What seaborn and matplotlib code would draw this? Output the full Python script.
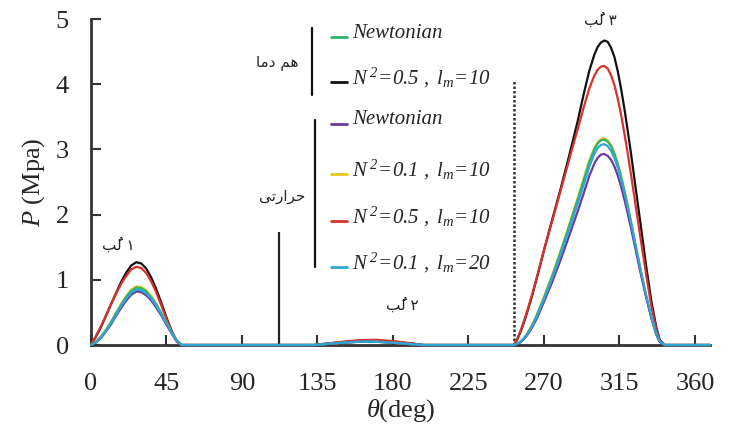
import numpy as np
import pandas as pd
import matplotlib
matplotlib.use("Agg")
import matplotlib.pyplot as plt
import seaborn as sns

# ---------------- data ----------------
series_names = ["iso_N05_l10", "th_N05_l10", "th_N01_l10", "iso_newt", "th_newt", "th_N01_l20"]
series_colors = ["#111111", "#d9312b", "#e6c619", "#2fb36b", "#6a3a9c", "#2fa6d6"]

theta_lobe1 = [0, 3, 6, 9, 12, 15, 18, 21, 24, 27, 30, 33, 36, 39, 42, 45, 48, 51, 54]
lobe1 = {
    "iso_N05_l10": [0, 0.13, 0.28, 0.45, 0.63, 0.80, 0.97, 1.11, 1.22, 1.27, 1.25, 1.17, 1.03, 0.85, 0.64, 0.42, 0.22, 0.07, 0],
    "th_N05_l10":  [0, 0.14, 0.29, 0.46, 0.63, 0.79, 0.94, 1.06, 1.16, 1.20, 1.18, 1.10, 0.97, 0.80, 0.60, 0.40, 0.21, 0.06, 0],
    "th_N01_l10":  [0, 0.05, 0.13, 0.24, 0.36, 0.50, 0.63, 0.75, 0.85, 0.90, 0.89, 0.84, 0.75, 0.63, 0.49, 0.34, 0.19, 0.07, 0],
    "iso_newt":    [0, 0.05, 0.13, 0.23, 0.35, 0.49, 0.62, 0.74, 0.83, 0.88, 0.87, 0.82, 0.73, 0.62, 0.48, 0.33, 0.19, 0.07, 0],
    "th_newt":     [0, 0.04, 0.11, 0.21, 0.32, 0.45, 0.57, 0.68, 0.77, 0.82, 0.81, 0.76, 0.68, 0.57, 0.45, 0.31, 0.18, 0.06, 0],
    "th_N01_l20":  [0, 0.04, 0.12, 0.22, 0.34, 0.47, 0.60, 0.71, 0.80, 0.85, 0.84, 0.79, 0.71, 0.60, 0.47, 0.33, 0.19, 0.07, 0],
}
theta_gap1 = [80, 120]
theta_lobe2 = [133, 140, 150, 160, 170, 180, 190, 198]
lobe2 = {
    "iso_N05_l10": [0, 0.020, 0.045, 0.065, 0.070, 0.050, 0.025, 0],
    "th_N05_l10":  [0, 0.020, 0.050, 0.075, 0.080, 0.060, 0.030, 0],
    "th_N01_l10":  [0, 0.015, 0.035, 0.050, 0.050, 0.035, 0.015, 0],
    "iso_newt":    [0, 0.015, 0.035, 0.050, 0.050, 0.035, 0.015, 0],
    "th_newt":     [0, 0.015, 0.035, 0.050, 0.050, 0.035, 0.015, 0],
    "th_N01_l20":  [0, 0.015, 0.035, 0.050, 0.050, 0.035, 0.015, 0],
}
theta_gap2 = [220, 245]
theta_lobe3 = [252, 254, 256, 258, 260, 263, 266, 270, 275, 280, 285, 290, 294, 297, 300, 302, 304,
               306, 308, 310, 312, 314, 316, 318, 320, 322, 325, 328, 331, 334, 337, 339, 342]
lobe3 = {
    "iso_N05_l10": [0, 0.08, 0.20, 0.34, 0.50, 0.76, 1.05, 1.45, 1.93, 2.40, 2.90, 3.42, 3.88, 4.20, 4.45, 4.57, 4.64,
                    4.67, 4.65, 4.56, 4.42, 4.20, 3.93, 3.62, 3.28, 2.92, 2.35, 1.78, 1.20, 0.68, 0.27, 0.08, 0],
    "th_N05_l10":  [0, 0.09, 0.21, 0.36, 0.52, 0.78, 1.06, 1.45, 1.91, 2.37, 2.84, 3.30, 3.67, 3.93, 4.13, 4.22, 4.27,
                    4.28, 4.24, 4.14, 3.99, 3.78, 3.53, 3.24, 2.93, 2.60, 2.08, 1.57, 1.07, 0.60, 0.24, 0.07, 0],
    "th_N01_l10":  [0, 0.02, 0.05, 0.10, 0.18, 0.31, 0.48, 0.74, 1.08, 1.45, 1.84, 2.25, 2.58, 2.83, 3.02, 3.11, 3.16,
                    3.17, 3.14, 3.07, 2.95, 2.79, 2.60, 2.38, 2.14, 1.88, 1.49, 1.10, 0.74, 0.42, 0.16, 0.05, 0],
    "iso_newt":    [0, 0.02, 0.05, 0.10, 0.17, 0.30, 0.47, 0.72, 1.06, 1.43, 1.82, 2.22, 2.55, 2.80, 3.00, 3.09, 3.14,
                    3.15, 3.12, 3.05, 2.93, 2.77, 2.58, 2.36, 2.12, 1.87, 1.48, 1.10, 0.74, 0.42, 0.16, 0.05, 0],
    "th_newt":     [0, 0.02, 0.04, 0.09, 0.15, 0.27, 0.42, 0.66, 0.97, 1.31, 1.67, 2.04, 2.35, 2.59, 2.78, 2.87, 2.92,
                    2.93, 2.90, 2.84, 2.74, 2.60, 2.43, 2.23, 2.01, 1.78, 1.42, 1.06, 0.73, 0.42, 0.17, 0.05, 0],
    "th_N01_l20":  [0, 0.02, 0.05, 0.10, 0.16, 0.29, 0.45, 0.70, 1.03, 1.39, 1.77, 2.16, 2.48, 2.73, 2.93, 3.02, 3.07,
                    3.08, 3.05, 2.98, 2.87, 2.72, 2.54, 2.33, 2.10, 1.86, 1.48, 1.11, 0.76, 0.44, 0.18, 0.06, 0],
}
theta_tail = [355, 369]

divider_solid = (112, 1.73)   # (theta, height)
divider_dotted = (252, 4.05)

x_ticks = [0, 45, 90, 135, 180, 225, 270, 315, 360]
y_ticks = [0, 1, 2, 3, 4, 5]

legend_entries = [
    ("iso_newt", "Newtonian"),
    ("iso_N05_l10", r"$N^{\,2}\!=\!0.5\ ,\ l_m\!=\!10$"),
    ("th_newt", "Newtonian"),
    ("th_N01_l10", r"$N^{\,2}\!=\!0.1\ ,\ l_m\!=\!10$"),
    ("th_N05_l10", r"$N^{\,2}\!=\!0.5\ ,\ l_m\!=\!10$"),
    ("th_N01_l20", r"$N^{\,2}\!=\!0.1\ ,\ l_m\!=\!20$"),
]
# Persian labels (pre-shaped, visual order)
label_iso = "\uFE8E\uFEE3\uFEA9 \uFEE2\uFEEB"          # هم دما
label_thermal = "\uFEF0\uFE97\uFEAD\uFE8D\uFEAE\uFEA3"  # حرارتی
lobe_labels = ["\uFE90\u064F\uFEDF \u06F1", "\uFE90\u064F\uFEDF \u06F2", "\uFE90\u064F\uFEDF \u06F3"]

# ---------------- build table ----------------
rows = []
for name in series_names:
    th = theta_lobe1 + theta_gap1 + theta_lobe2 + theta_gap2 + theta_lobe3 + theta_tail
    vals = lobe1[name] + [0, 0] + lobe2[name] + [0, 0] + lobe3[name] + [0, 0]
    for t, v in zip(th, vals):
        rows.append({"theta": t, "P": v, "series": name})
df = pd.DataFrame(rows)

# ---------------- style ----------------
sns.set_theme(style="ticks")
plt.rcParams["font.family"] = ["Liberation Serif", "DejaVu Sans"]
plt.rcParams["mathtext.fontset"] = "custom"
plt.rcParams["mathtext.it"] = "Liberation Serif:italic"
plt.rcParams["mathtext.rm"] = "Liberation Serif:italic"

W, H = 729, 434
fig = plt.figure(figsize=(W / 100, H / 100), dpi=100)
ax_l, ax_r, ax_b, ax_t = 91, 710, 345, 19
ax = fig.add_axes([ax_l / W, 1 - ax_b / H, (ax_r - ax_l) / W, (ax_b - ax_t) / H])

palette = dict(zip(series_names, series_colors))
sns.lineplot(data=df, x="theta", y="P", hue="series", hue_order=series_names,
             palette=palette, estimator=None, sort=True, lw=1.6, legend=False,
             ax=ax, clip_on=False, zorder=3)

ax.vlines(divider_solid[0], 0, divider_solid[1], color="#222222", lw=1.6, zorder=2)
ax.vlines(divider_dotted[0], 0, divider_dotted[1], color="#333333", lw=1.8,
          linestyles=(0, (1, 0.8)), zorder=2)

ax.set_xlim(0, 369)
ax.set_ylim(0, 5)
ax.set_xticks(x_ticks)
ax.set_yticks(y_ticks)
ax.tick_params(direction="in", length=7, width=1.5, color="#333333", labelsize=19)
ax.tick_params(axis="x", pad=20)
ax.tick_params(axis="y", pad=16)
sns.despine(ax=ax)
for s in ["left", "bottom"]:
    ax.spines[s].set_linewidth(2)
    ax.spines[s].set_color("#333333")
ax.set_xlabel(r"$\theta$(deg)", fontsize=19, labelpad=2)
ax.set_ylabel(r"$P$ (Mpa)", fontsize=19, labelpad=6)


def fx(px):
    return px / W


def fy(py):
    return 1 - py / H


# legend (custom)
row_y = [33, 78, 120, 170, 217, 263]
for (name, txt), py in zip(legend_entries, row_y):
    fig.add_artist(plt.Line2D([fx(331), fx(347)], [fy(py + 4), fy(py + 4)],
                              color=palette[name], lw=2))
    fig.text(fx(352), fy(py), txt, fontsize=15, style="italic", va="center", ha="left")

fig.add_artist(plt.Line2D([fx(312), fx(312)], [fy(28), fy(95)], color="#111111", lw=1.6))
fig.add_artist(plt.Line2D([fx(315), fx(315)], [fy(120), fy(267)], color="#111111", lw=1.6))
fig.text(fx(277), fy(62), label_iso, family="DejaVu Sans", fontsize=11, ha="center", va="center")
fig.text(fx(282), fy(197), label_thermal, family="DejaVu Sans", fontsize=11, ha="center", va="center")

for (px, py), lab in zip([(118, 245), (402, 305), (600, 20)], lobe_labels):
    fig.text(fx(px), fy(py), lab, family="DejaVu Sans", fontsize=11, ha="center", va="center")

fig.savefig("out.png", dpi=100)
